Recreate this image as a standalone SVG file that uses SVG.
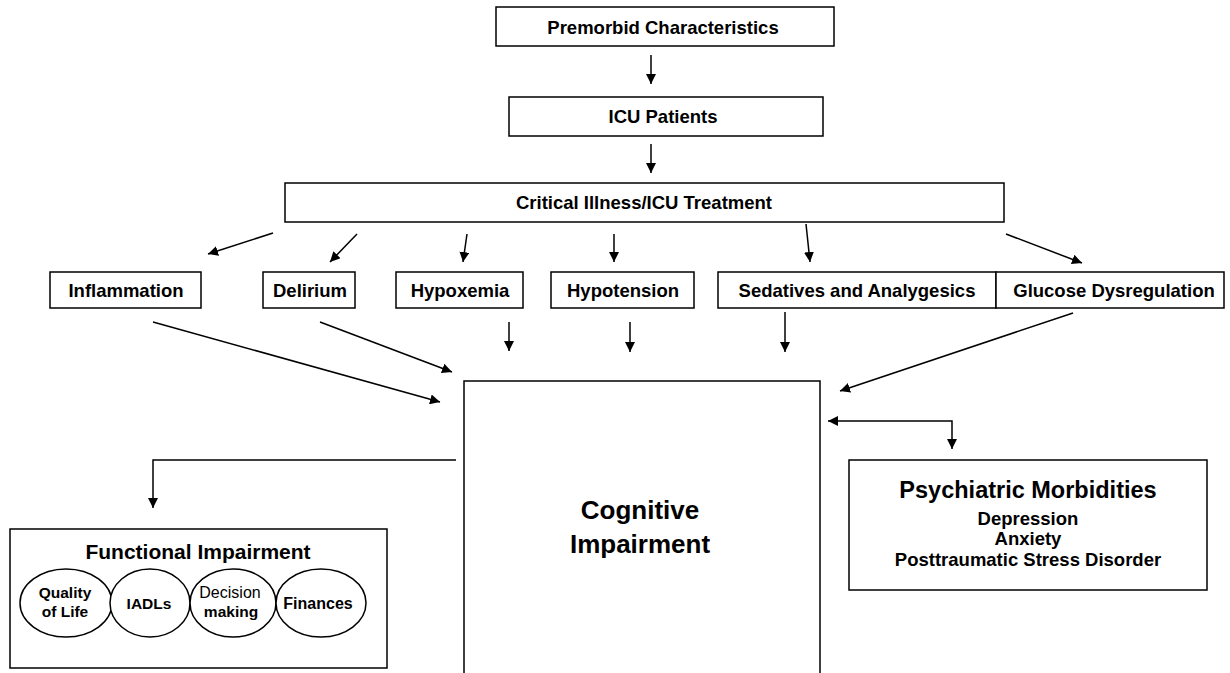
<svg xmlns="http://www.w3.org/2000/svg" width="1230" height="673" viewBox="0 0 1230 673">
<defs>
<marker id="ah" viewBox="0 0 10 10" refX="10" refY="5" markerWidth="10" markerHeight="10" markerUnits="userSpaceOnUse" orient="auto-start-reverse">
<path d="M0,0 L10,5 L0,10 z" fill="#000"/>
</marker>
<style>
rect,ellipse{fill:#fff;stroke:#000;stroke-width:1.5}
text{font-family:"Liberation Sans",Arial,sans-serif;font-weight:bold;fill:#000;text-anchor:middle}
.lb{font-size:18.5px}
.sm{font-size:15.5px}
.cn line,.cn path{stroke:#000;stroke-width:1.5;fill:none;marker-end:url(#ah)}
</style>
</defs>
<rect x="0" y="0" width="1230" height="673" style="fill:#fff;stroke:none"/>
<g id="premorbid"><rect x="496" y="7" width="338" height="39"/><text class="lb" x="663" y="34">Premorbid Characteristics</text></g>
<g id="icu"><rect x="509" y="97" width="314" height="39"/><text class="lb" x="663" y="123">ICU Patients</text></g>
<g id="critical"><rect x="285" y="183" width="719" height="39"/><text class="lb" x="644" y="209">Critical Illness/ICU Treatment</text></g>
<g id="inflammation"><rect x="50" y="272" width="151" height="36"/><text class="lb" x="126" y="297">Inflammation</text></g>
<g id="delirium"><rect x="263" y="272" width="92" height="36"/><text class="lb" x="310" y="297">Delirium</text></g>
<g id="hypoxemia"><rect x="396" y="272" width="127" height="36"/><text class="lb" x="460" y="297">Hypoxemia</text></g>
<g id="hypotension"><rect x="551" y="272" width="143" height="36"/><text class="lb" x="623" y="297">Hypotension</text></g>
<g id="sedatives"><rect x="718" y="272" width="278" height="36"/><text class="lb" x="857" y="297">Sedatives and Analygesics</text></g>
<g id="glucose"><rect x="996" y="272" width="228" height="36"/><text class="lb" x="1114" y="297">Glucose Dysregulation</text></g>
<g id="cognitive"><rect x="464" y="381" width="356" height="310"/><text x="640" y="519" style="font-size:26px">Cognitive</text><text x="640" y="553" style="font-size:26px">Impairment</text></g>
<g id="psychiatric"><rect x="849" y="460" width="358" height="130"/><text x="1028" y="498" style="font-size:23.5px">Psychiatric Morbidities</text><text class="lb" x="1028" y="525">Depression</text><text class="lb" x="1028" y="545">Anxiety</text><text class="lb" x="1028" y="566">Posttraumatic Stress Disorder</text></g>
<g id="functional"><rect x="10" y="529" width="377" height="139"/><text x="198" y="559" style="font-size:21px">Functional Impairment</text>
<g id="qol"><ellipse cx="66" cy="603" rx="46" ry="34"/><text class="sm" x="65" y="598">Quality</text><text class="sm" x="65" y="617">of Life</text></g>
<g id="iadls"><ellipse cx="150" cy="603" rx="40" ry="34"/><text class="sm" x="149" y="609">IADLs</text></g>
<g id="decision"><ellipse cx="233" cy="603" rx="43" ry="34"/><text class="sm" x="230" y="598" style="font-weight:normal;font-size:16px">Decision</text><text class="sm" x="231" y="617">making</text></g>
<g id="finances"><ellipse cx="321" cy="603" rx="45" ry="34"/><text class="sm" x="318" y="609" style="font-size:16px">Finances</text></g>
</g>
<g class="cn" id="connectors">
<line x1="651" y1="55" x2="651" y2="84"/>
<line x1="651" y1="144" x2="651" y2="173"/>
<line x1="273" y1="233" x2="208" y2="254"/>
<line x1="357" y1="234" x2="330" y2="262"/>
<line x1="467" y1="234" x2="463" y2="262"/>
<line x1="614" y1="234" x2="614" y2="262"/>
<line x1="806" y1="224" x2="810" y2="262"/>
<line x1="1006" y1="234" x2="1082" y2="263"/>
<line x1="153" y1="322" x2="440" y2="402"/>
<line x1="320" y1="322" x2="452" y2="372"/>
<line x1="509" y1="322" x2="509" y2="351"/>
<line x1="630" y1="322" x2="630" y2="352"/>
<line x1="785" y1="312" x2="785" y2="352"/>
<line x1="1073" y1="313" x2="840" y2="391"/>
<path d="M456,460 H153 V508"/>
<path d="M952,449 V421 H828" style="marker-start:url(#ah)"/>
</g>
</svg>
